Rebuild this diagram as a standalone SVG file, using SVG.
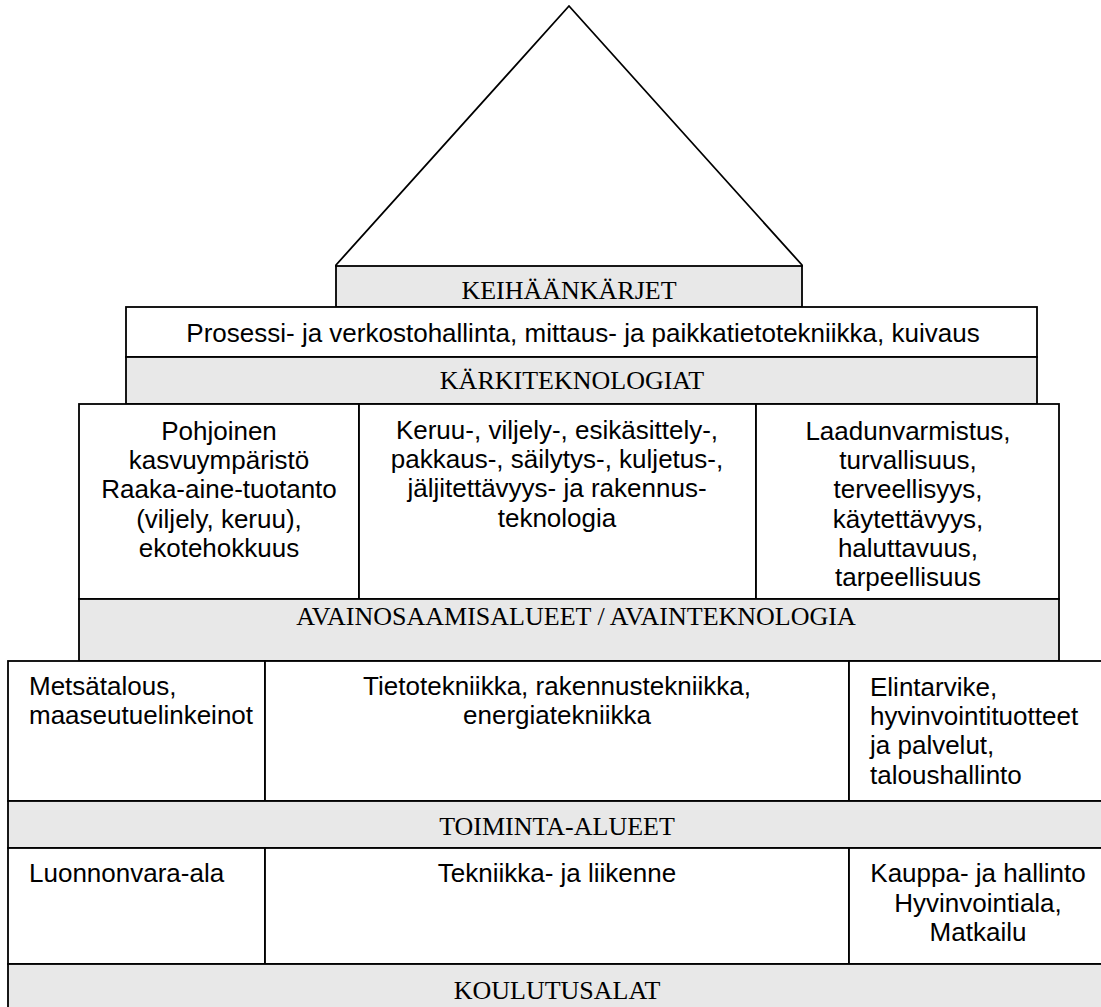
<svg xmlns="http://www.w3.org/2000/svg" width="1101" height="1007" viewBox="0 0 1101 1007">
<style>
.box{fill:#ffffff;stroke:#000;stroke-width:1.8}
.band{fill:#e8e8e8;stroke:#000;stroke-width:1.8}
.ln{fill:none;stroke:#000;stroke-width:1.8}
.s{font-family:"Liberation Sans",Arial,sans-serif;font-size:26px;fill:#000}
.h{font-family:"Liberation Serif","Times New Roman",serif;font-size:26px;fill:#000;text-anchor:middle}
.c{text-anchor:middle}
</style>
<rect width="1101" height="1007" fill="#fff"/>
<g id="roof">
<polyline class="ln" points="336,267 336,265 569,6 802,265 802,267"/>
</g>
<g id="keihaankarjet">
<rect class="band" x="336" y="266" width="466" height="41"/>
<text class="h" x="569" y="299">KEIHÄÄNKÄRJET</text>
</g>
<g id="prosessi">
<rect class="box" x="126" y="307" width="911" height="50"/>
<text class="s c" x="583" y="342">Prosessi- ja verkostohallinta, mittaus- ja paikkatietotekniikka, kuivaus</text>
</g>
<g id="karkiteknologiat">
<rect class="band" x="126" y="357" width="911" height="47"/>
<text class="h" x="572" y="389">KÄRKITEKNOLOGIAT</text>
</g>
<g id="pohjoinen">
<rect class="box" x="79" y="404" width="280" height="195"/>
<text class="s c" x="219" y="440">Pohjoinen<tspan x="219" dy="29.2">kasvuympäristö</tspan><tspan x="219" dy="29.2">Raaka-aine-tuotanto</tspan><tspan x="219" dy="29.2">(viljely, keruu),</tspan><tspan x="219" dy="29.2">ekotehokkuus</tspan></text>
</g>
<g id="keruu">
<rect class="box" x="359" y="404" width="397" height="195"/>
<text class="s c" x="557" y="439">Keruu-, viljely-, esikäsittely-,<tspan x="557" dy="29.2">pakkaus-, säilytys-, kuljetus-,</tspan><tspan x="557" dy="29.2">jäljitettävyys- ja rakennus-</tspan><tspan x="557" dy="29.2">teknologia</tspan></text>
</g>
<g id="laadunvarmistus">
<rect class="box" x="756" y="404" width="303" height="195"/>
<text class="s c" x="908" y="440">Laadunvarmistus,<tspan x="908" dy="29.2">turvallisuus,</tspan><tspan x="908" dy="29.2">terveellisyys,</tspan><tspan x="908" dy="29.2">käytettävyys,</tspan><tspan x="908" dy="29.2">haluttavuus,</tspan><tspan x="908" dy="29.2">tarpeellisuus</tspan></text>
</g>
<g id="avainosaamisalueet">
<rect class="band" x="79" y="599" width="980" height="62"/>
<text class="h" x="576" y="625">AVAINOSAAMISALUEET / AVAINTEKNOLOGIA</text>
</g>
<g id="metsatalous">
<rect class="box" x="8" y="661" width="257" height="140"/>
<text class="s" x="29" y="695">Metsätalous,<tspan x="29" dy="29.2">maaseutuelinkeinot</tspan></text>
</g>
<g id="tietotekniikka">
<rect class="box" x="265" y="661" width="584" height="140"/>
<text class="s c" x="557" y="695">Tietotekniikka, rakennustekniikka,<tspan x="557" dy="29.2">energiatekniikka</tspan></text>
</g>
<g id="elintarvike">
<rect class="box" x="849" y="661" width="258" height="140"/>
<text class="s" x="870" y="696">Elintarvike,<tspan x="870" dy="29.2">hyvinvointituotteet</tspan><tspan x="870" dy="29.2">ja palvelut,</tspan><tspan x="870" dy="29.2">taloushallinto</tspan></text>
</g>
<g id="toiminta-alueet">
<rect class="band" x="8" y="801" width="1099" height="47"/>
<text class="h" x="557" y="835">TOIMINTA-ALUEET</text>
</g>
<g id="luonnonvara">
<rect class="box" x="8" y="848" width="257" height="116"/>
<text class="s" x="29" y="882">Luonnonvara-ala</text>
</g>
<g id="tekniikka">
<rect class="box" x="265" y="848" width="584" height="116"/>
<text class="s c" x="557" y="882">Tekniikka- ja liikenne</text>
</g>
<g id="kauppa">
<rect class="box" x="849" y="848" width="258" height="116"/>
<text class="s c" x="978" y="882">Kauppa- ja hallinto<tspan x="978" dy="29.6">Hyvinvointiala,</tspan><tspan x="978" dy="29.6">Matkailu</tspan></text>
</g>
<g id="koulutusalat">
<rect class="band" x="8" y="964" width="1099" height="60"/>
<text class="h" x="557" y="999">KOULUTUSALAT</text>
</g>
<g id="connectors"></g>
</svg>
